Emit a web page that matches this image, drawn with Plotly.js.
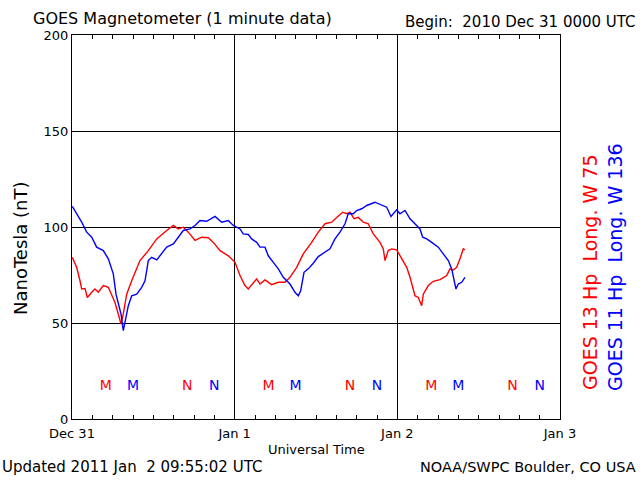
<!DOCTYPE html>
<html>
<head>
<meta charset="utf-8">
<script src="https://cdn.plot.ly/plotly-3.0.1.min.js"></script>
<style>html,body{margin:0;padding:0;background:#fff}</style>
</head>
<body>
<div id="chart" style="width:640px;height:480px"></div>
<script>
// Hours since 2010-12-31 00:00 UTC
var hours13 = [0.04,0.69,1.18,1.43,1.92,2.26,2.91,3.39,3.88,4.62,5.36,5.86,6.34,6.83,7.23,7.57,8.07,8.81,10.03,11.26,12.5,13.97,14.95,15.68,16.42,17.16,18.15,19.14,20.11,20.85,21.84,23.06,23.8,24.05,24.79,25.52,26.01,26.75,27.25,27.74,28.47,29.46,30.44,31.42,32.16,33.15,34.12,35.36,36.34,37.33,38.31,39.05,39.94,40.53,41.02,41.61,42.24,42.98,43.71,44.45,45.44,45.93,46.18,46.66,47.17,47.9,48.64,49.38,49.87,50.26,50.6,51.09,51.59,51.83,52.57,53.3,54.29,55.28,55.77,56.25,56.76,57.24,57.73,57.98];
var goes13 = [84.2,79,72,67.7,68,63.3,66,67.7,66,69.5,68.6,65,60.7,54.7,49.4,54.7,65,72,82.5,87.7,93.8,98.2,100.8,99,99.9,97.3,93,94.7,94.4,92,87.7,85,82.5,81.6,74.7,69.5,67.7,71.2,73,70.3,72.4,70,71.2,71.2,73.8,79,86,92,97.3,101.7,102.5,105,107.7,106.9,107.7,104.3,105,102.5,101.7,96.4,92,88.6,82.5,87.7,88.6,88.1,83.4,79,73.8,68.6,64.2,63.3,59,65,69.5,71.7,72.6,74.7,78.2,77.6,79,83.4,88.6,88.1];

var hours11 = [0.04,0.69,1.43,2.17,2.91,3.64,4.13,4.62,5.36,6.09,6.49,6.83,7.23,7.57,7.92,8.31,8.81,9.55,10.28,10.77,11.26,11.76,12.5,13.23,13.97,14.95,15.68,16.42,17.41,18.15,18.88,19.87,21.1,22.09,23.06,23.8,24.79,25.27,26.01,26.51,27.25,27.74,28.47,28.96,29.7,30.44,31.17,32.16,32.9,33.39,33.74,34.23,34.86,35.6,36.34,37.33,38.06,38.8,39.54,40.28,40.76,41.5,42,42.74,43.48,44.7,45.69,46.43,47.06,47.9,48.39,49.13,49.87,50.6,51.34,51.74,52.33,53.07,54.04,54.78,55.52,56.02,56.36,56.65,56.99,57.49,57.98];
var goes11 = [110.7,106.9,102.5,97.3,94.7,89.5,88.6,87.7,83.4,75.6,65,59.9,54.7,46,52.9,59,64.2,65,68.6,72,82.5,84.2,82.9,86,89.5,91.2,94.7,98.2,99,100.8,103.4,103,105.5,102.5,103.4,100.8,99,96.4,96.1,93.8,92,89.5,89.5,85,81.6,78.2,73.8,70.3,66,64.2,66.8,76.4,78.2,81.1,84.6,86.8,88.6,93.8,97.3,101.7,106.9,106.9,108.6,109.5,111.2,112.9,111.2,110.3,105.5,109,106.9,108.6,104.3,101.7,99,94.7,93.8,92,89.5,86,82.5,78.2,72,67.7,70.3,71.2,73.8];

// Local midnight (M) and noon (N) markers, hours since start
var mHours13 = [5, 29, 53];
var nHours13 = [17, 41, 65];
var mHours11 = [9, 33, 57];
var nHours11 = [21, 45, 69];
var markerLevel = 17;

var tickVals = [0, 24, 48, 72];
var tickText = ['Dec 31', 'Jan 1', 'Jan 2', 'Jan 3'];

var RED = '#ff0000', BLUE = '#0000ff';
var FONT = 'DejaVu Sans, sans-serif';

function lvl(arr){ return arr.map(function(){ return markerLevel; }); }
function txt(arr, s){ return arr.map(function(){ return s; }); }

var traces = [
  {x: hours13, y: goes13, mode: 'lines', line: {color: RED, width: 1.4}, hoverinfo: 'skip'},
  {x: hours11, y: goes11, mode: 'lines', line: {color: BLUE, width: 1.4}, hoverinfo: 'skip'},
  {x: mHours13, y: lvl(mHours13), mode: 'text', text: txt(mHours13, 'M'), textfont: {color: RED, size: 14, family: FONT}},
  {x: nHours13, y: lvl(nHours13), mode: 'text', text: txt(nHours13, 'N'), textfont: {color: RED, size: 14, family: FONT}},
  {x: mHours11, y: lvl(mHours11), mode: 'text', text: txt(mHours11, 'M'), textfont: {color: BLUE, size: 14, family: FONT}},
  {x: nHours11, y: lvl(nHours11), mode: 'text', text: txt(nHours11, 'N'), textfont: {color: BLUE, size: 14, family: FONT}}
];

var layout = {
  width: 640, height: 480,
  margin: {l: 72, r: 80, t: 35, b: 61},
  paper_bgcolor: '#ffffff', plot_bgcolor: '#ffffff',
  showlegend: false,
  font: {family: FONT, size: 13, color: '#000'},
  xaxis: {
    range: [0, 72], tickvals: tickVals, ticktext: tickText,
    showgrid: true, gridcolor: '#000', gridwidth: 1,
    showline: true, linecolor: '#000', linewidth: 1, mirror: 'allticks',
    ticks: 'inside', ticklen: 4, tickcolor: '#000',
    minor: {dtick: 3, ticks: 'inside', ticklen: 4, tickcolor: '#000', showgrid: false},
    zeroline: false, fixedrange: true, ticklabelstandoff: 2,
    tickfont: {size: 13, family: FONT}
  },
  yaxis: {
    range: [0, 200], dtick: 50,
    showgrid: true, gridcolor: '#000', gridwidth: 1,
    showline: true, linecolor: '#000', linewidth: 1, mirror: true,
    ticks: '', zeroline: false, fixedrange: true,
    tickfont: {size: 13, family: FONT}
  },
  annotations: [
    {text: 'GOES Magnetometer (1 minute data)', xref: 'paper', yref: 'paper', x: (31-72)/488, y: (419-18)/384, xanchor: 'left', yanchor: 'middle', showarrow: false, font: {size: 16}},
    {text: 'Begin:\u00a0 2010 Dec 31 0000 UTC', xref: 'paper', yref: 'paper', x: (638-72)/488, y: (419-22)/384, xanchor: 'right', yanchor: 'middle', showarrow: false, font: {size: 15}},
    {text: 'Universal Time', xref: 'paper', yref: 'paper', x: 0.5, y: (419-449)/384, xanchor: 'center', yanchor: 'middle', showarrow: false, font: {size: 13}},
    {text: 'Updated 2011 Jan\u00a0 2 09:55:02 UTC', xref: 'paper', yref: 'paper', x: (0-72)/488, y: (419-467)/384, xanchor: 'left', yanchor: 'middle', showarrow: false, font: {size: 15}},
    {text: 'NOAA/SWPC Boulder, CO USA', xref: 'paper', yref: 'paper', x: (638-72)/488, y: (419-467)/384, xanchor: 'right', yanchor: 'middle', showarrow: false, font: {size: 14.5}},
    {text: 'NanoTesla (nT)', xref: 'paper', yref: 'paper', x: (20-72)/488, y: (419-248)/384, xanchor: 'center', yanchor: 'middle', textangle: -90, showarrow: false, font: {size: 18}},
    {text: 'GOES 13 Hp\u00a0 Long. W 75', xref: 'paper', yref: 'paper', x: (590-72)/488, y: (419-272)/384, xanchor: 'center', yanchor: 'middle', textangle: -90, showarrow: false, font: {size: 19, color: RED}},
    {text: 'GOES 11 Hp\u00a0 Long. W 136', xref: 'paper', yref: 'paper', x: (615-72)/488, y: (419-267)/384, xanchor: 'center', yanchor: 'middle', textangle: -90, showarrow: false, font: {size: 19, color: BLUE}}
  ]
};

Plotly.newPlot('chart', traces, layout, {staticPlot: true, displayModeBar: false});
</script>
</body>
</html>
